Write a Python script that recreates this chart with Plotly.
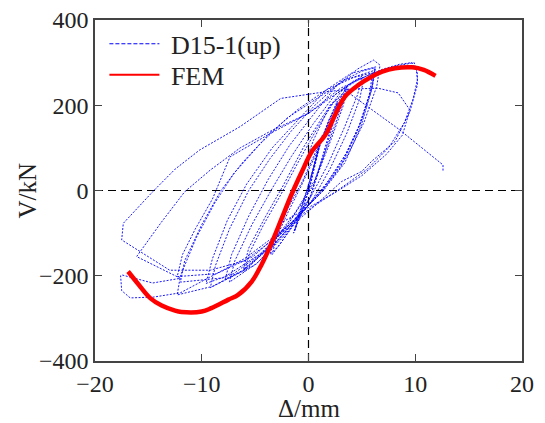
import plotly.graph_objects as go

# ---- data ----
hyst_x = [
    0, 0.6, 1.2, 0.8, 0.1, -0.6, -1.3, -0.9, -0.2,
    0.6, 1.3, 0.9, 0.2, -0.6, -1.4, -0.9, -0.1,
    1.0, 2.0, 2.7, 2.3, 1.2, 0.2, -1.3, -2.5, -3.4, -3.0, -1.9, -0.7,
    0.7, 1.9, 2.8, 2.3, 1.1, 0.0, -1.5, -2.8, -3.6, -3.1, -1.9, -0.6,
    1.2, 2.4, 3.6, 3.2, 2.0, 0.6, -1.2, -3.0, -4.8, -6.0, -5.5, -4.2, -2.6, -1.0,
    0.8, 2.3, 3.7, 3.2, 1.9, 0.4, -1.8, -4.0, -6.1, -5.6, -4.0, -2.3,
    -0.5, 1.5, 3.3, 5.0, 4.6, 3.4, 1.8, 0.2, -2.2, -4.8, -7.4, -6.9, -5.3, -3.4, -1.6,
    0.4, 2.5, 4.3, 5.2, 4.8, 3.6, 2.0, 0.3, -2.4, -5.0, -7.8, -7.2, -5.6, -3.8, -1.8,
    0.2, 2.6, 4.6, 6.1, 6.7, 6.4, 5.2, 3.6, 1.6, -0.5, -3.2, -6.2, -9.2, -8.7, -7.4, -5.6, -3.6, -1.6,
    0.6, 3.0, 5.0, 6.2, 5.9, 4.8, 3.2, 1.2, -1.2, -4.0, -7.0, -9.6, -9.0, -7.6, -5.8, -3.4,
    -1.0, 1.6, 4.0, 6.3, 6.0, 5.0, 3.6, 1.8, -0.2, -3.0, -6.0, -9.0, -12.3, -12.0, -10.5, -8.8, -7.0, -4.5, -2.0,
    0.8, 3.5, 6.2, 5.9, 4.9, 3.4, 1.4, -1.4, -4.6, -8.0, -12.0, -11.6, -10.0, -8.2, -6.2, -3.6, -1.0,
    1.6, 4.2, 6.0, 5.7, 4.6, 3.0, 1.0, -1.8, -5.2, -8.6, -12.3, -11.8, -10.6, -9.0, -7.35, -3.5, 0.0,
    2.5, 4.8, 7.0, 8.5, 9.7, 10.1, 10.2, 9.8, 9.0, 7.5, 5.5, 3.0, 0.0, -2.8, -6.0, -9.0, -12.0, -14.5, -16.7, -17.5,
    -17.6, -17.5, -14.6, -12.0,
    -16.1, -13.8, -11.6, -9.2, -6.4, -3.5, 0.0, 3.0, 6.0, 8.2, 9.9, 10.2, 10.2,
    9.5, 8.1, 5.9, 5.0, 3.1, 0.0, -3.0, -6.0, -9.2, -13.0, -17.5,
    -17.35, -14.6, -12.5, -10.2, -6.4, -2.6, 1.4, 4.0, 6.5, 8.4, 9.5,
    8.8, 7.3, 5.0, 2.5, 0.0, -2.5,
    -1.0, 0.5, 2.0, 3.6, 8.4, 12.6, 12.6,
]
hyst_y = [
    0, 70, 125, 85, 10, -45, -95, -60, -5,
    65, 130, 90, 15, -50, -100, -55, 5,
    100, 170, 210, 165, 70, -15, -75, -120, -150, -110, -50, 10,
    85, 165, 205, 155, 55, -25, -85, -130, -150, -105, -40, 20,
    120, 190, 245, 205, 120, 25, -50, -110, -160, -190, -145, -80, -10, 65,
    145, 205, 240, 195, 105, 10, -75, -140, -185, -135, -60, 15,
    100, 180, 240, 268, 225, 150, 60, -15, -100, -170, -215, -165, -80, 5, 80,
    155, 225, 258, 265, 215, 135, 50, -25, -110, -175, -208, -150, -60, 25, 105,
    170, 245, 285, 306, 294, 245, 160, 80, 10, -50, -125, -190, -228, -175, -90, 0, 75, 140,
    200, 255, 280, 288, 240, 155, 70, 0, -65, -140, -195, -218, -160, -70, 15, 100,
    165, 235, 275, 290, 245, 165, 90, 20, -40, -120, -185, -225, -245, -200, -110, -30, 40, 110, 170,
    215, 260, 282, 235, 150, 65, 0, -70, -150, -205, -215, -165, -80, 0, 65, 135, 190,
    235, 265, 276, 225, 140, 55, -10, -80, -155, -195, -202, -150, -90, -20, 79, 135, 181,
    225, 262, 285, 296, 300, 283, 260, 215, 160, 100, 50, 5, -45, -100, -160, -200, -240, -250, -252, -235,
    -200, -198, -217, -206,
    -155, -75, -3, 48, 100, 140, 181, 240, 275, 292, 300, 275, 248,
    185, 115, 68, 45, 21, -49, -110, -165, -187, -187, -116,
    -77, -3, 50, 95, 150, 216, 231, 238, 240, 229, 189,
    130, 85, 35, -5, -40, -75,
    20, 120, 200, 232, 145, 60, 45,
]

fem_x = [-16.9, -15.9, -14.8, -13.75, -12.5, -11.9, -10.0, -9.1, -7.5, -6.6, -5.3, -4.4, -3.4,
         -2.5, -1.6, -0.6, 0.3, 1.6, 2.5, 3.4, 4.7, 5.9, 6.9, 8.1, 9.7, 10.8, 11.9]
fem_y = [-190, -221, -253, -270, -282, -285, -284, -276, -256, -245, -213, -174, -120,
         -65, -10, 45, 91, 131, 178, 220, 248, 267, 279, 287, 289, 283, 269]

x_ticks = [-20, -10, 0, 10, 20]
y_ticks = [-400, -200, 0, 200, 400]

FONT = "Liberation Serif"
TXT = "#222222"

fig = go.Figure()
fig.add_trace(go.Scatter(x=hyst_x, y=hyst_y, mode="lines", showlegend=False,
                         line=dict(color="#0000ff", width=0.9, dash="2px,1.5px")))
fig.add_trace(go.Scatter(x=fem_x, y=fem_y, mode="lines", showlegend=False,
                         line=dict(color="#ff0000", width=4.5, shape="spline")))
# legend entries (one legend per row for exact spacing)
fig.add_trace(go.Scatter(x=[None], y=[None], mode="lines", name=" D15-1(up)", legend="legend",
                         line=dict(color="#0000ff", width=1.2, dash="4px,2px")))
fig.add_trace(go.Scatter(x=[None], y=[None], mode="lines", name=" FEM", legend="legend2",
                         line=dict(color="#ff0000", width=2)))

# dashed reference lines through the origin
fig.add_shape(type="line", xref="x", yref="paper", x0=0, x1=0, y0=0, y1=1,
              line=dict(color="black", width=1.2, dash="8px,5px"), layer="below")
fig.add_shape(type="line", xref="paper", yref="y", x0=0, x1=1, y0=0, y1=0,
              line=dict(color="black", width=1.2, dash="8px,5px"), layer="below")

axis_common = dict(showgrid=False, zeroline=False, showline=True, mirror="ticks",
                   linecolor="#444444", linewidth=1.5, ticks="inside", ticklen=7,
                   tickwidth=1.2, tickcolor="#444444", automargin=False,
                   ticklabeloverflow="allow",
                   tickfont=dict(family=FONT, size=24, color=TXT))

fig.update_xaxes(range=[-20, 20], tickvals=x_ticks, **axis_common)
fig.update_yaxes(range=[-400, 400], tickvals=y_ticks, **axis_common)

# axis titles
fig.add_annotation(text="Δ/mm", xref="paper", yref="paper", x=0.5, y=-0.14,
                   xanchor="center", yanchor="middle", showarrow=False,
                   font=dict(family=FONT, size=25, color=TXT))
fig.add_annotation(text="V/kN", xref="paper", yref="paper", x=-0.159, y=0.5,
                   xanchor="center", yanchor="middle", showarrow=False, textangle=-90,
                   font=dict(family=FONT, size=25, color=TXT))

leg_common = dict(x=0.022, xanchor="left", yanchor="middle",
                  bgcolor="rgba(0,0,0,0)", borderwidth=0,
                  font=dict(family=FONT, size=26, color=TXT), itemwidth=50)

fig.update_layout(
    width=545, height=423,
    margin=dict(l=95, r=23, t=20, b=62),
    paper_bgcolor="white", plot_bgcolor="white",
    legend=dict(y=0.930, **leg_common),
    legend2=dict(y=0.839, **leg_common),
)

fig.write_html("out.html", config={"displayModeBar": False},
               post_script="document.body.style.margin='0';document.body.style.overflow='hidden';")
